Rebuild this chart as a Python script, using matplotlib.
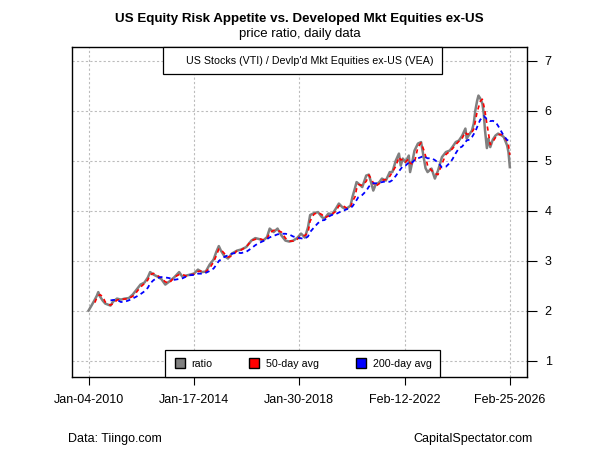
import matplotlib
matplotlib.use("Agg")
import matplotlib.pyplot as plt
import matplotlib.dates as mdates
from matplotlib.lines import Line2D
import pandas as pd

plt.rcParams['font.family'] = ['Liberation Sans', 'DejaVu Sans']

# decimal years and ratio values
when = [2010.008, 2010.12, 2010.25, 2010.33, 2010.38, 2010.45, 2010.55, 2010.65, 2010.75, 2010.85,
        2010.95, 2011.1, 2011.25, 2011.4, 2011.55, 2011.7, 2011.85, 2012.0, 2012.15, 2012.28,
        2012.37, 2012.5, 2012.65, 2012.8, 2012.95, 2013.1, 2013.3, 2013.48, 2013.6, 2013.75,
        2013.9, 2014.05, 2014.2, 2014.35, 2014.5, 2014.65, 2014.8, 2014.9, 2015.0, 2015.08,
        2015.2, 2015.35, 2015.5, 2015.7, 2015.85, 2016.05, 2016.25, 2016.4, 2016.55, 2016.7,
        2016.85, 2016.95, 2017.1, 2017.25, 2017.4, 2017.55, 2017.7, 2017.85, 2018.0, 2018.15,
        2018.3, 2018.42, 2018.5, 2018.65, 2018.8, 2018.95, 2019.05, 2019.2, 2019.35, 2019.5,
        2019.6, 2019.75, 2019.9, 2020.05, 2020.12, 2020.22, 2020.28, 2020.35, 2020.5, 2020.65,
        2020.75, 2020.85, 2020.92, 2021.0, 2021.15, 2021.25, 2021.4, 2021.55, 2021.65, 2021.78,
        2021.9, 2021.97, 2022.05, 2022.15, 2022.28, 2022.33, 2022.4, 2022.5, 2022.63, 2022.75,
        2022.85, 2022.92, 2023.0, 2023.15, 2023.28, 2023.4, 2023.55, 2023.7, 2023.85, 2023.95,
        2024.08, 2024.2, 2024.33, 2024.45, 2024.5, 2024.62, 2024.7, 2024.77, 2024.83, 2024.9,
        2024.95, 2025.02, 2025.1, 2025.15, 2025.2, 2025.27, 2025.33, 2025.4, 2025.5, 2025.6,
        2025.7, 2025.85, 2025.92, 2026.05, 2026.1, 2026.151]
ratio = [2.00, 2.10, 2.22, 2.30, 2.37, 2.28, 2.20, 2.14, 2.12, 2.10,
         2.18, 2.24, 2.22, 2.24, 2.25, 2.32, 2.42, 2.52, 2.56, 2.66,
         2.77, 2.72, 2.68, 2.63, 2.52, 2.58, 2.67, 2.77, 2.68, 2.70,
         2.72, 2.74, 2.82, 2.77, 2.78, 2.92, 3.02, 3.17, 3.29, 3.20,
         3.10, 3.04, 3.14, 3.20, 3.22, 3.27, 3.40, 3.45, 3.43, 3.40,
         3.47, 3.64, 3.57, 3.64, 3.50, 3.40, 3.38, 3.40, 3.45, 3.54,
         3.46, 3.67, 3.91, 3.95, 3.97, 3.87, 3.84, 3.94, 3.93, 4.05,
         4.14, 4.06, 4.04, 4.10, 4.27, 4.45, 4.57, 4.54, 4.47, 4.70,
         4.72, 4.54, 4.40, 4.51, 4.57, 4.64, 4.60, 4.77, 4.77, 5.00,
         5.14, 4.90, 5.04, 4.97, 5.10, 4.77, 4.94, 5.20, 5.34, 5.37,
         5.07, 4.85, 4.77, 4.84, 4.64, 4.80, 5.07, 5.17, 5.20, 5.27,
         5.37, 5.40, 5.50, 5.64, 5.44, 5.54, 5.60, 5.74, 6.00, 6.20,
         6.30, 6.24, 6.14, 5.94, 5.60, 5.25, 5.44, 5.27, 5.42, 5.50,
         5.54, 5.50, 5.47, 5.30, 5.17, 4.87]

tick_dates = ["2010-01-04", "2014-01-17", "2018-01-30", "2022-02-12", "2026-02-25"]
tick_labels = ["Jan-04-2010", "Jan-17-2014", "Jan-30-2018", "Feb-12-2022", "Feb-25-2026"]

dates = [pd.Timestamp(f"{int(w)}-01-01") + pd.Timedelta(days=round((w - int(w)) * 365)) for w in when]
s = pd.Series(ratio, index=pd.DatetimeIndex(dates))

# 50 and 200 trading days ~ 73 and 290 calendar days
ma50 = s.rolling("73D").mean()
ma50[s.index < s.index[0] + pd.Timedelta(days=73)] = float("nan")
ma200 = s.rolling("290D").mean()
ma200[s.index < s.index[0] + pd.Timedelta(days=290)] = float("nan")

fig = plt.figure(figsize=(6, 4.5), dpi=100)
ax = fig.add_axes([0.1195, 0.162, 0.7583, 0.7334])

ax.plot(s.index, s.values, color="#808080", lw=1.8)
ax.plot(ma50.index, ma50.values, color="red", lw=1.2, ls=(0, (2.5, 2.2)))
ax.plot(ma200.index, ma200.values, color="blue", lw=1.3, ls=(0, (2.5, 2)))

t0 = pd.Timestamp(tick_dates[0])
t1 = pd.Timestamp(tick_dates[-1])
pad = (t1 - t0) * 0.04
ax.set_xlim(t0 - pad, t1 + pad)
ax.set_ylim(0.67, 7.27)

ax.set_xticks([mdates.date2num(pd.Timestamp(d)) for d in tick_dates])
ax.set_xticklabels(tick_labels, fontsize=9)
ax.set_yticks([1, 2, 3, 4, 5, 6, 7])
ax.yaxis.tick_right()
ax.tick_params(axis="y", length=7, labelsize=9, pad=6)
ax.tick_params(axis="x", length=6, labelsize=9, pad=6)
ax.grid(True, color="#bcbcbc", ls=(0, (2, 2)), lw=0.8)
for sp in ax.spines.values():
    sp.set_linewidth(1.0)

# top legend with the series description
top = ax.legend([Line2D([], [], color="none")],
                ["US Stocks (VTI) / Devlp'd Mkt Equities ex-US (VEA)"],
                loc="upper center", fontsize=7.7, fancybox=False, framealpha=1,
                edgecolor="black", borderaxespad=0, handlelength=0.7, handletextpad=0.6,
                borderpad=0.8, bbox_to_anchor=(0.507, 1))
top.get_frame().set_linewidth(0.9)
ax.add_artist(top)

handles = [Line2D([], [], marker="s", ls="none", markersize=7.5, markerfacecolor=c,
                  markeredgecolor="black") for c in ["#808080", "red", "blue"]]
bot = ax.legend(handles, ["ratio", "50-day avg", "200-day avg"], loc="lower center",
                ncol=3, fontsize=7.7, fancybox=False, framealpha=1, edgecolor="black",
                borderaxespad=0, columnspacing=3.3, handletextpad=0.5, handlelength=1.2,
                borderpad=0.8, bbox_to_anchor=(0.507, 0))
bot.get_frame().set_linewidth(0.9)

fig.text(0.499, 0.958, "US Equity Risk Appetite vs. Developed Mkt Equities ex-US",
         ha="center", va="center", fontsize=9.6, fontweight="bold")
fig.text(0.499, 0.924, "price ratio, daily data", ha="center", va="center", fontsize=9.5)
fig.text(0.113, 0.025, "Data: Tiingo.com", ha="left", va="center", fontsize=9)
fig.text(0.888, 0.025, "CapitalSpectator.com", ha="right", va="center", fontsize=9)

fig.savefig("out.png", dpi=100)
